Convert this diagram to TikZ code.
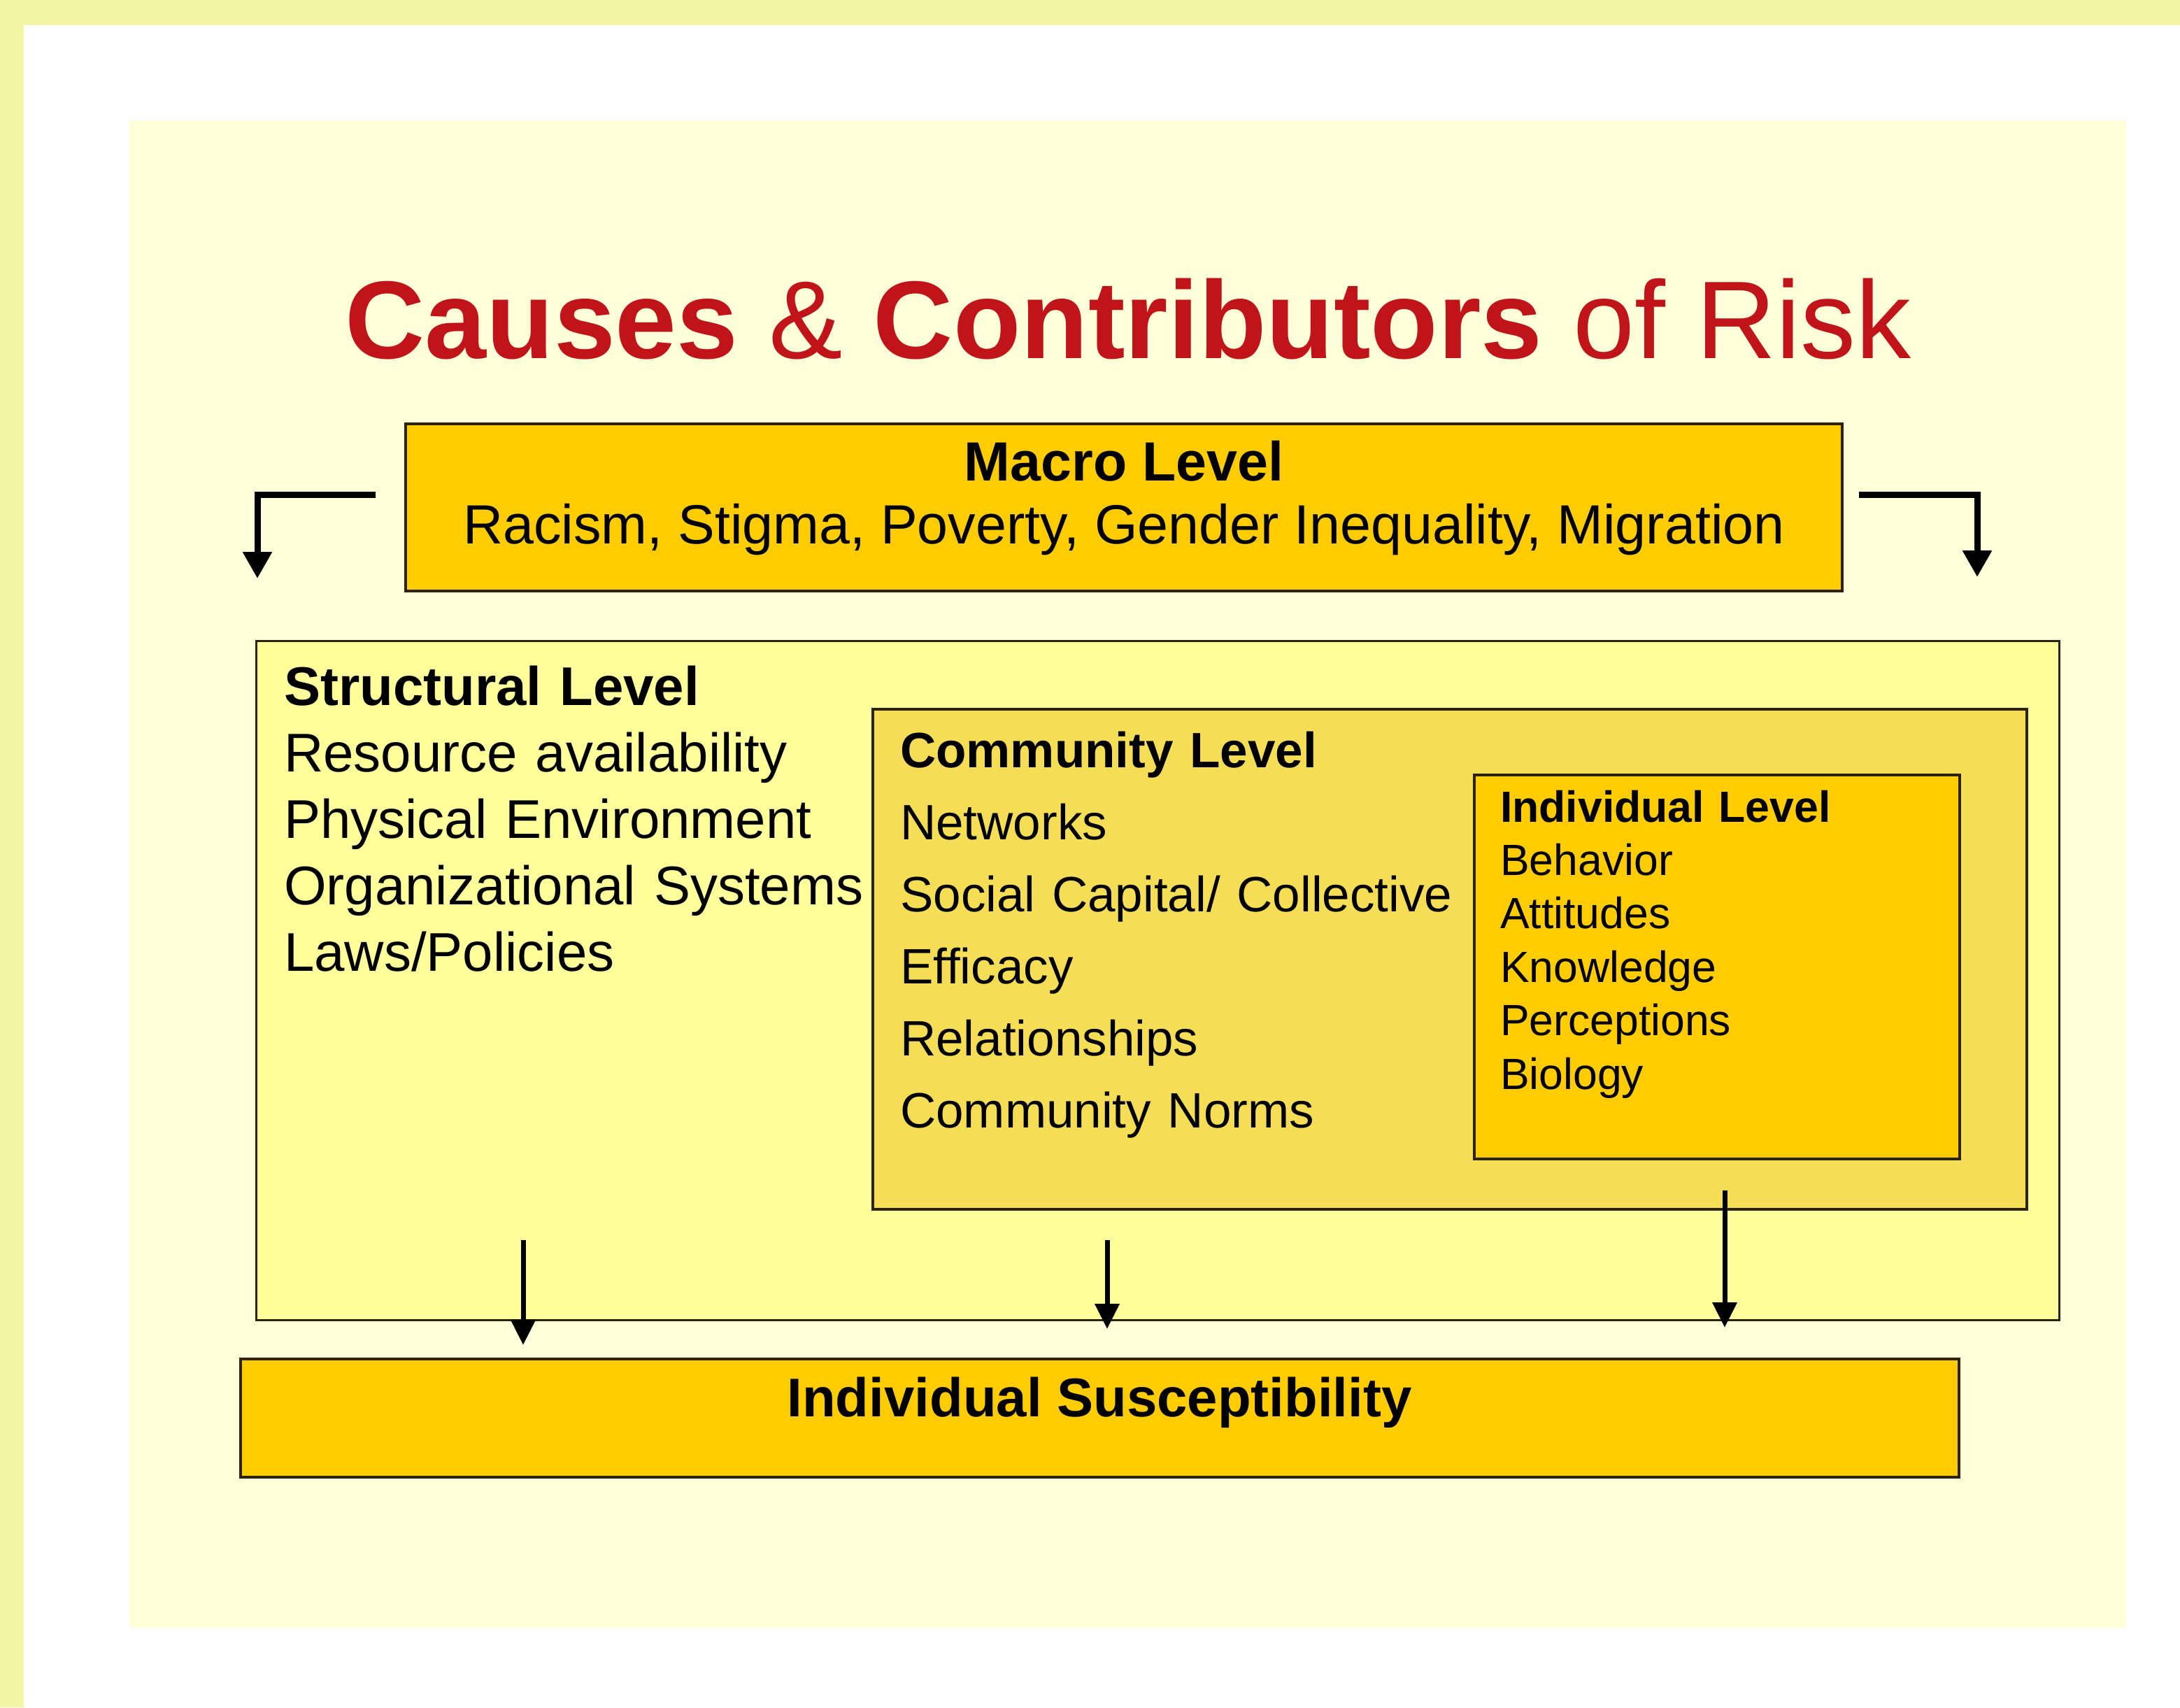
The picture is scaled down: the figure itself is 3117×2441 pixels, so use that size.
\documentclass[tikz,border=0pt]{standalone}
\usepackage{fontspec}
\setmainfont{Liberation Sans}
\usepackage{tikz}
\usetikzlibrary{arrows.meta}

\definecolor{frameyellow}{RGB}{244,246,166}
\definecolor{panelyellow}{RGB}{255,255,218}
\definecolor{gold}{RGB}{255,204,0}
\definecolor{commyellow}{RGB}{245,222,85}
\definecolor{structyellow}{RGB}{255,255,155}
\definecolor{edgebrown}{RGB}{45,35,10}
\definecolor{titlered}{RGB}{192,20,25}

\begin{document}
\begin{tikzpicture}[x=1pt, y=-1pt,
		level box/.style={draw=edgebrown, line width=4pt, inner sep=0pt, outer sep=0pt, anchor=north west},
		macro text/.style={font=\fontsize{79}{90}\selectfont, text height=58pt, text depth=17pt, inner sep=0pt, node distance=90pt},
		struct text/.style={font=\fontsize{78}{95}\selectfont, text width=860pt, align=left, text height=57pt, text depth=17pt, inner sep=0pt, node distance=95pt},
		comm text/.style={font=\fontsize{71}{103}\selectfont, text width=800pt, align=left, text height=52pt, text depth=15pt, inner sep=0pt, node distance=103pt},
		indiv text/.style={font=\fontsize{62.5}{76}\selectfont, text width=520pt, align=left, text height=46pt, text depth=13pt, inner sep=0pt, node distance=76.4pt},
		bend arrow/.style={line width=9pt, -{Triangle[length=38pt,width=40pt]}},
		down arrow/.style={line width=7pt, -{Triangle[length=36pt,width=34pt]}}]
	
	\useasboundingbox (0,0) rectangle (3117,2441);
	\fill[white] (0,0) rectangle (3117,2441);
	\fill[frameyellow] (0,0) rectangle (3117,36);
	\fill[frameyellow] (0,0) rectangle (34,2441);
	\fill[panelyellow] (185,172) rectangle (3040,2327);
	
	% title
	\node[anchor=base, text=titlered, font=\fontsize{158}{170}\selectfont] (title) at (1613,512)
		{\textbf{Causes} \& \textbf{Contributors} of Risk};
	
	% boxes
	\node[level box, fill=gold, minimum width=2054pt, minimum height=239pt] (macro) at (580,606) {};
	\node[level box, fill=structyellow, line width=3pt, minimum width=2578pt, minimum height=971pt] (structural) at (366,916) {};
	\node[level box, fill=commyellow, minimum width=1650pt, minimum height=715pt] (community) at (1248,1014) {};
	\node[level box, fill=gold, minimum width=694pt, minimum height=549pt] (individual) at (2108,1108) {};
	\node[level box, fill=gold, minimum width=2457pt, minimum height=169pt] (suscept) at (344,1943) {};
	
	% macro level
	\node[macro text, anchor=base] (mHead) at (1607,687) {\textbf{Macro Level}};
	\node[macro text] (mList) [below of=mHead] {Racism, Stigma, Poverty, Gender Inequality, Migration};
	
	% structural level
	\node[struct text, anchor=base west] (sHead) at (406,1008) {\textbf{Structural Level}};
	\node[struct text] (s1) [below of=sHead] {Resource availability};
	\node[struct text] (s2) [below of=s1] {Physical Environment};
	\node[struct text] (s3) [below of=s2] {Organizational Systems};
	\node[struct text] (s4) [below of=s3] {Laws/Policies};
	
	% community level
	\node[comm text, anchor=base west] (cHead) at (1287,1097) {\textbf{Community Level}};
	\node[comm text] (c1) [below of=cHead] {Networks};
	\node[comm text] (c2) [below of=c1] {Social Capital/ Collective};
	\node[comm text] (c3) [below of=c2] {Efficacy};
	\node[comm text] (c4) [below of=c3] {Relationships};
	\node[comm text] (c5) [below of=c4] {Community Norms};
	
	% individual level
	\node[indiv text, anchor=base west] (iHead) at (2145,1175) {\textbf{Individual Level}};
	\node[indiv text] (i1) [below of=iHead] {Behavior};
	\node[indiv text] (i2) [below of=i1] {Attitudes};
	\node[indiv text] (i3) [below of=i2] {Knowledge};
	\node[indiv text] (i4) [below of=i3] {Perceptions};
	\node[indiv text] (i5) [below of=i4] {Biology};
	
	\node[anchor=base, font=\fontsize{78}{90}\selectfont\bfseries] (susText) at (1572,2025) {Individual Susceptibility};
	
	% arrows
	\coordinate (mL) at (537,707);
	\coordinate (mLend) at (368,827);
	\coordinate (mR) at (2658,707);
	\coordinate (mRend) at (2827,825);
	\coordinate (sTop) at (748,1773);
	\coordinate (sEnd) at (748,1923);
	\coordinate (cTop) at (1583,1773);
	\coordinate (cEnd) at (1583,1900);
	\coordinate (iTop) at (2466,1702);
	\coordinate (iEnd) at (2466,1898);
	
	\draw[bend arrow] (mL) -| (mLend);
	\draw[bend arrow] (mR) -| (mRend);
	\draw[down arrow] (sTop) -- (sEnd);
	\draw[down arrow] (cTop) -- (cEnd);
	\draw[down arrow] (iTop) -- (iEnd);
	
\end{tikzpicture}
\end{document}
